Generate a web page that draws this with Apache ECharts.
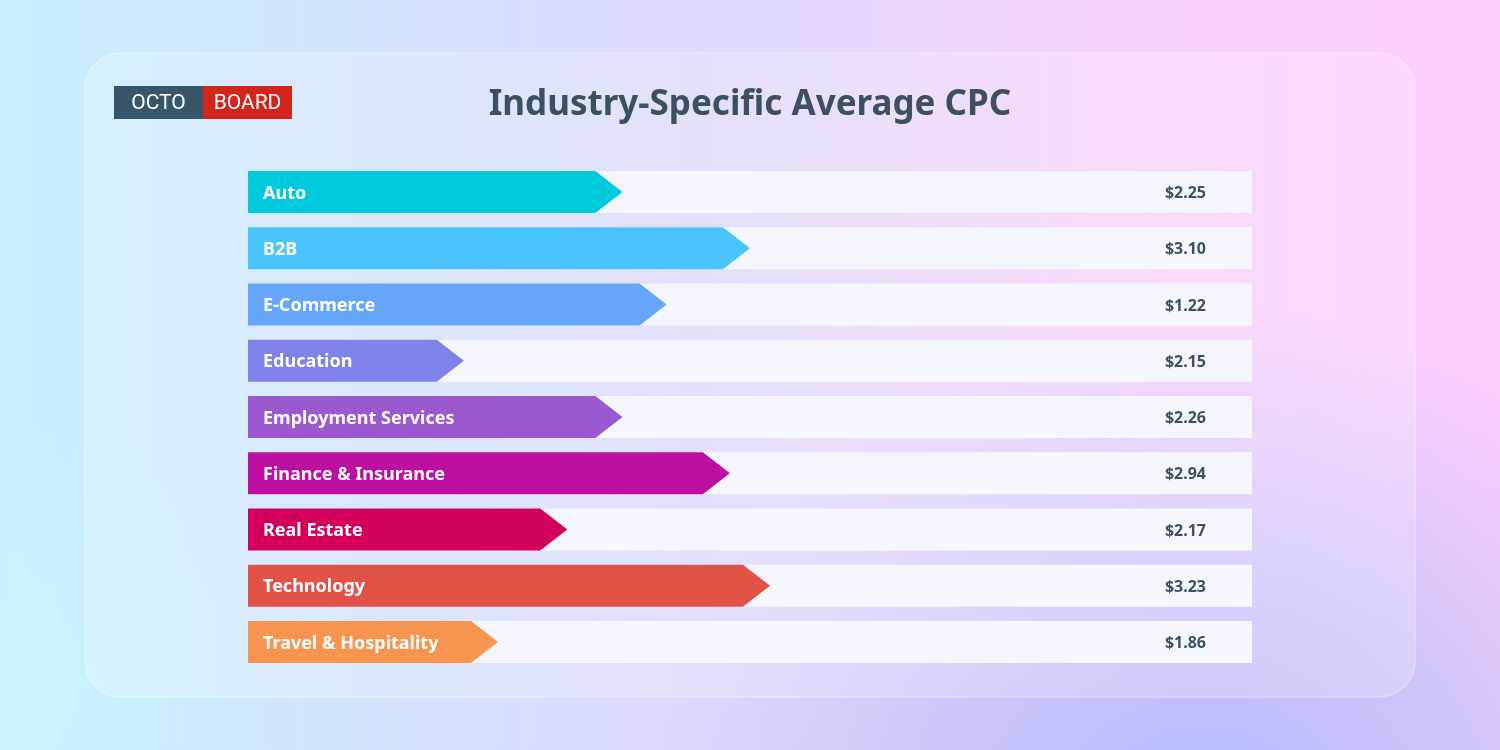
<!DOCTYPE html>
<html>
<head>
<meta charset="utf-8">
<script src="https://cdn.jsdelivr.net/npm/echarts@6/dist/echarts.min.js"></script>
<style>
  html, body { margin: 0; padding: 0; }
  #chart { width: 1500px; height: 750px; }
</style>
</head>
<body>
<div id="chart"></div>
<script>
// ---- data ----
const titleText = 'Industry-Specific Average CPC';
const categories = ['Auto', 'B2B', 'E-Commerce', 'Education', 'Employment Services',
  'Finance & Insurance', 'Real Estate', 'Technology', 'Travel & Hospitality'];
const cpcLabels = ['$2.25', '$3.10', '$1.22', '$2.15', '$2.26', '$2.94', '$2.17', '$3.23', '$1.86'];
// bar length (arrow tip) as share of the full track, in percent, as drawn in the picture
const barShare = [37.3, 50.0, 41.7, 21.5, 37.3, 48.0, 31.8, 52.0, 24.9];
const barColors = ['#00c9dc', '#4ac4fd', '#66a6fa', '#7f82e8', '#9b58cf',
  '#bd10a0', '#d2005a', '#e05246', '#f7944f'];
const trackMax = 100;

const chart = echarts.init(document.getElementById('chart'), null, { renderer: 'canvas' });

const FONT = '"Noto Sans", "Open Sans", sans-serif';

function renderItem(params, api) {
  const idx = api.value(1);
  const len = api.value(0);
  const start = api.coord([0, idx]);
  const end = api.coord([trackMax, idx]);
  const tip = api.coord([len, idx]);
  const band = api.size([0, 1])[1];
  const h = band * 0.747;
  const half = h / 2;
  const depth = half * 1.29;
  const y0 = start[1] - half, y1 = start[1] + half;
  const color = barColors[idx];
  return {
    type: 'group',
    children: [
      { type: 'rect', shape: { x: start[0], y: y0, width: end[0] - start[0], height: h },
        style: { fill: '#f6f7fe' } },
      { type: 'polygon', shape: { points: [
          [start[0], y0], [tip[0] - depth, y0], [tip[0], start[1]],
          [tip[0] - depth, y1], [start[0], y1]] },
        style: { fill: color } },
      { type: 'text', style: { text: categories[idx], x: start[0] + 15, y: start[1] + 1.5,
          fill: '#ffffff', font: 'bold 18px ' + FONT,
          align: 'left', verticalAlign: 'middle' } },
      { type: 'text', style: { text: cpcLabels[idx], x: end[0] - 46, y: start[1] + 1.5,
          fill: '#3d5164', font: 'bold 16px ' + FONT,
          align: 'right', verticalAlign: 'middle' } }
    ]
  };
}

const option = {
  animation: false,
  backgroundColor: new echarts.graphic.LinearGradient(0, 0, 1, 0, [
    { offset: 0, color: '#c8eefd' },
    { offset: 0.45, color: '#dcd9fb' },
    { offset: 0.75, color: '#f6d2fb' },
    { offset: 1, color: '#fbcdfb' }
  ]),
  graphic: [
    { type: 'rect', z: -10, silent: true, shape: { x: 0, y: 0, width: 1500, height: 750 },
      style: { fill: new echarts.graphic.RadialGradient(0.8, 1.15, 0.75, [
        { offset: 0, color: 'rgba(170,180,251,1)' },
        { offset: 0.5, color: 'rgba(180,190,251,0.6)' },
        { offset: 1, color: 'rgba(185,195,251,0)' }
      ]) } },
    { type: 'rect', z: -10, silent: true, shape: { x: 0, y: 0, width: 1500, height: 750 },
      style: { fill: new echarts.graphic.RadialGradient(0, 0.9, 0.35, [
        { offset: 0, color: 'rgba(200,243,254,0.9)' },
        { offset: 1, color: 'rgba(200,243,254,0)' }
      ]) } },
    { type: 'rect', z: -5, silent: true,
      shape: { x: 85, y: 53, width: 1330, height: 644, r: 36 },
      style: { fill: 'rgba(255,255,255,0.2)', stroke: 'rgba(255,255,255,0.35)', lineWidth: 1.5 } },
    { type: 'rect', z: 5, silent: true, shape: { x: 114, y: 86, width: 89, height: 33 },
      style: { fill: '#37566b' } },
    { type: 'rect', z: 5, silent: true, shape: { x: 203, y: 86, width: 89, height: 33 },
      style: { fill: '#d3251d' } },
    { type: 'text', z: 6, silent: true, x: 158.5, y: 103.5,
      style: { text: 'OCTO', fill: '#ffffff', font: '21px Roboto, sans-serif',
        align: 'center', verticalAlign: 'middle' } },
    { type: 'text', z: 6, silent: true, x: 247.5, y: 103.5,
      style: { text: 'BOARD', fill: '#ffffff', font: '21px Roboto, sans-serif',
        align: 'center', verticalAlign: 'middle' } }
  ],
  title: {
    text: titleText,
    left: 'center',
    top: 83,
    textStyle: { color: '#3d4f63', fontSize: 35, fontWeight: 'bold', fontFamily: FONT }
  },
  grid: { left: 248, right: 248, top: 164, bottom: 80 },
  xAxis: { type: 'value', min: 0, max: trackMax, show: false },
  yAxis: { type: 'category', data: categories, inverse: true, show: false },
  series: [{
    type: 'custom',
    renderItem: renderItem,
    encode: { x: 0, y: 1 },
    data: barShare.map((v, i) => [v, i])
  }]
};
chart.setOption(option);
</script>
</body>
</html>
